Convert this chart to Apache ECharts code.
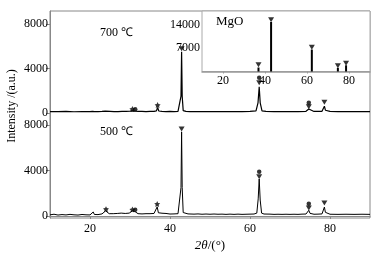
<!DOCTYPE html>
<html>
<head>
<meta charset="utf-8">
<script src="https://cdn.jsdelivr.net/npm/echarts@6/dist/echarts.min.js"></script>
<style>
  html, body { margin: 0; padding: 0; background: #fff; }
  #chart { width: 381px; height: 254px; }
</style>
</head>
<body>
<div id="chart"></div>
<script>
// XRD patterns, [2theta, intensity]
var trace700 = [
  [10,120],[12,110],[14,130],[16,100],[18,120],[20,110],[20.6,130],[20.9,220],[21.2,120],[22,110],
  [23,130],[23.8,150],[24.2,120],[25,140],[26,120],[27,110],[28,130],[29,140],[30,160],[30.5,260],
  [30.8,180],[31.1,250],[31.4,150],[32,140],[33,130],[34,120],[35,130],[36,140],[36.6,180],[36.9,500],
  [37.2,170],[38,130],[39,120],[40,130],[41,120],[42,130],[42.5,200],[42.75,1500],[42.9,5500],[43.05,1500],
  [43.3,200],[44,130],[45,120],[46,120],[48,110],[50,120],[52,110],[54,120],[56,110],[58,120],
  [60,130],[61.5,180],[62.0,900],[62.3,2350],[62.55,900],[63,180],[64,130],[66,120],[68,110],[70,120],
  [72,120],[74,140],[74.45,200],[74.7,350],[74.95,180],[76,130],[78,140],[78.35,250],[78.6,600],[78.85,240],
  [80,130],[82,120],[84,110],[86,120],[88,110],[90,120]
];
var trace500 = [
  [10,100],[11,150],[12,80],[13,120],[14,90],[15,140],[16,100],[17,80],[18,130],[19,100],
  [20,90],[20.5,150],[20.8,350],[21.1,130],[21.5,180],[22,120],[22.5,200],[23,180],[23.5,250],[23.9,450],
  [24.3,280],[24.8,200],[25.3,280],[25.8,200],[26.3,300],[26.8,220],[27.3,180],[27.8,250],[28.3,180],[28.8,220],
  [29.3,200],[29.8,250],[30.3,350],[30.6,450],[30.9,300],[31.2,400],[31.5,250],[32,200],[32.5,250],[33,180],
  [33.5,220],[34,200],[34.5,260],[35,200],[35.5,240],[36,220],[36.5,300],[36.8,800],[37.1,280],[37.6,200],
  [38,240],[38.5,180],[39,220],[39.5,200],[40,170],[40.5,200],[41,180],[41.5,160],[42,200],[42.5,300],
  [42.75,2500],[42.9,7400],[43.05,2500],[43.3,300],[43.8,200],[44.5,180],[45,200],[46,160],[47,180],[48,150],
  [49,170],[50,150],[51,170],[52,150],[53,160],[54,140],[55,160],[56,140],[57,160],[58,140],
  [59,150],[60,160],[61,170],[61.7,250],[62.05,1500],[62.3,3250],[62.55,1400],[62.9,250],[63.5,170],[64,150],
  [65,160],[66,140],[67,150],[68,140],[69,150],[70,140],[71,150],[72,140],[73,160],[74,170],
  [74.4,250],[74.7,500],[75,230],[75.5,170],[76,150],[77,160],[78,180],[78.35,350],[78.6,780],[78.85,320],
  [79.3,180],[80,150],[82,140],[84,150],[86,140],[88,150],[90,140]
];

// phase markers
var upperTri = [[42.9,5750],[62.3,2700],[74.7,560],[78.6,950]];
var upperCirc = [[31.3,330],[62.3,3150],[74.7,920]];
var upperStar = [[30.6,340],[36.9,700]];
var lowerTri = [[42.9,7650],[62.3,3450],[74.7,700],[78.6,1150]];
var lowerCirc = [[31.3,550],[62.3,3900],[74.7,1080]];
var lowerStar = [[24.0,600],[30.6,560],[36.8,1050]];

// MgO reference (inset)
var mgoAngles = [36.9, 42.9, 62.3, 74.7, 78.6];
var mgoIntensity = [1200, 14900, 6600, 1100, 1860];
var mgoMarker = [2000, 15600, 7300, 1700, 2500];

var xTicks = [20, 40, 60, 80];
var yTicks = [0, 4000, 8000];
var insetYTicks = [7000, 14000];

var font = 'Liberation Serif';
var starPath = 'path://M0,-10 L2.9,-4 L9.5,-3.1 L4.7,1.5 L5.9,8.1 L0,5 L-5.9,8.1 L-4.7,1.5 L-9.5,-3.1 L-2.9,-4 Z';

var chartDom = document.getElementById('chart');
var myChart = echarts.init(chartDom, null, { renderer: 'canvas' });

function pair(xs, ys) {
  return xs.map(function (x, i) { return [x, ys[i]]; });
}
function plain(v) { return String(v); }

function markerSeries(data, idx, kind, z) {
  var s = {
    type: 'scatter', xAxisIndex: idx, yAxisIndex: idx, data: data,
    itemStyle: { color: '#000' }, silent: true, z: z || 3
  };
  if (kind === 'tri') { s.symbol = 'triangle'; s.symbolRotate = 180; s.symbolSize = [6, 5]; }
  if (kind === 'circ') { s.symbol = 'circle'; s.symbolSize = 4.5; }
  if (kind === 'star') { s.symbol = starPath; s.symbolSize = 6; }
  return s;
}

function labelStyle(extra) {
  var s = { color: '#000', fontSize: 12, fontFamily: font, formatter: plain };
  for (var k in extra) s[k] = extra[k];
  return s;
}

var option = {
  animation: false,
  backgroundColor: '#fff',
  textStyle: { fontFamily: font },
  grid: [
    { left: 50, top: 11, width: 320, height: 207, show: true, borderColor: '#888', borderWidth: 1, backgroundColor: 'transparent' },
    { left: 50, top: 11, width: 320, height: 103 },
    { left: 50, top: 114, width: 320, height: 104 },
    { left: 202, top: 11, width: 168, height: 60.5, show: true, backgroundColor: '#fff', borderColor: '#aaa', borderWidth: 1, z: 10 }
  ],
  xAxis: [
    { gridIndex: 0, type: 'value', min: 10, max: 90, show: false },
    { gridIndex: 1, type: 'value', min: 10, max: 90, show: false },
    {
      gridIndex: 2, type: 'value', min: 10, max: 90,
      axisLine: { lineStyle: { color: '#888', width: 1 } },
      splitLine: { show: false },
      axisTick: { length: 3, lineStyle: { color: '#888' }, customValues: xTicks },
      axisLabel: labelStyle({ margin: 5, customValues: xTicks }),
      name: '{i|2θ}/(°)', nameLocation: 'middle', nameGap: 21,
      nameTextStyle: { color: '#000', fontSize: 13, fontFamily: font, rich: { i: { fontStyle: 'italic', fontSize: 13, fontFamily: font } } }
    },
    {
      gridIndex: 3, type: 'value', min: 10, max: 90, z: 11,
      axisLine: { lineStyle: { color: '#999', width: 1.5 } },
      splitLine: { show: false },
      axisTick: { length: 2, lineStyle: { color: '#999' }, customValues: xTicks },
      axisLabel: labelStyle({ margin: 3, customValues: xTicks })
    }
  ],
  yAxis: [
    { gridIndex: 0, type: 'value', min: 0, max: 1, show: false },
    {
      gridIndex: 1, type: 'value', min: -100, max: 9150,
      axisLine: { show: true, lineStyle: { color: '#888' } },
      splitLine: { show: false },
      axisTick: { show: true, length: 4, lineStyle: { color: '#888' }, customValues: yTicks },
      axisLabel: labelStyle({ margin: 2, customValues: yTicks })
    },
    {
      gridIndex: 2, type: 'value', min: -180, max: 8970,
      axisLine: { show: true, lineStyle: { color: '#888' } },
      splitLine: { show: false },
      axisTick: { show: true, length: 4, lineStyle: { color: '#888' }, customValues: yTicks },
      axisLabel: labelStyle({ margin: 2, customValues: yTicks })
    },
    {
      gridIndex: 3, type: 'value', min: 0, max: 18200, z: 11,
      axisLine: { show: false },
      splitLine: { show: false },
      axisTick: { show: false },
      axisLabel: labelStyle({ margin: 2, customValues: insetYTicks })
    }
  ],
  graphic: [
    { type: 'text', x: 12, y: 106, rotation: Math.PI / 2,
      style: { text: 'Intensity /(a.u.)', textAlign: 'center', textVerticalAlign: 'middle', font: '12px ' + font, fill: '#000' } },
    { type: 'text', left: 100, top: 27, style: { text: '700 ℃', font: '12px ' + font, fill: '#000' } },
    { type: 'text', left: 100, top: 126, style: { text: '500 ℃', font: '12px ' + font, fill: '#000' } },
    { type: 'text', left: 216, top: 15, z: 20, style: { text: 'MgO', font: '13px ' + font, fill: '#000' } }
  ],
  series: [
    { type: 'line', xAxisIndex: 1, yAxisIndex: 1, data: trace700, showSymbol: false,
      lineStyle: { color: '#000', width: 1.2 }, silent: true },
    { type: 'line', xAxisIndex: 2, yAxisIndex: 2, data: trace500, showSymbol: false,
      lineStyle: { color: '#000', width: 1 }, silent: true },
    markerSeries(upperTri, 1, 'tri'),
    markerSeries(upperCirc, 1, 'circ'),
    markerSeries(upperStar, 1, 'star'),
    markerSeries(lowerTri, 2, 'tri'),
    markerSeries(lowerCirc, 2, 'circ'),
    markerSeries(lowerStar, 2, 'star'),
    { type: 'bar', xAxisIndex: 3, yAxisIndex: 3, data: pair(mgoAngles, mgoIntensity), barWidth: 2,
      itemStyle: { color: '#000' }, silent: true, z: 12 },
    markerSeries(pair(mgoAngles, mgoMarker), 3, 'tri', 12)
  ]
};

myChart.setOption(option);
</script>
</body>
</html>
